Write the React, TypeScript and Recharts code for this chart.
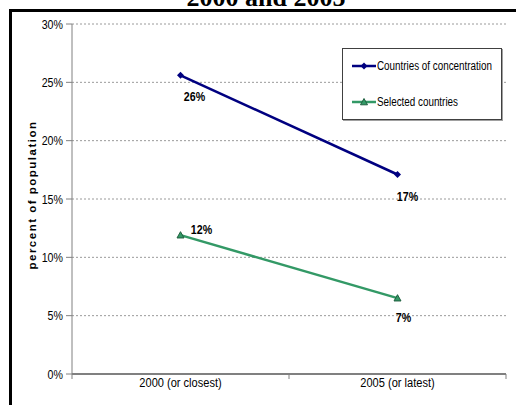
import { LineChart, Line, XAxis, YAxis, CartesianGrid, Legend, LabelList } from "recharts";

const categories = ["2000 (or closest)", "2005 (or latest)"];
const concentration = [25.6, 17.1];
const selected = [11.9, 6.5];
const yTicks = [0, 5, 10, 15, 20, 25, 30];
const seriesNames = ["Countries of concentration", "Selected countries"];

const BLUE = "#000080";
const GREEN = "#339966";
const SANS = "'Liberation Sans', Arial, sans-serif";
const NARROW = 0.82; // no narrow font installed, squeeze Liberation Sans instead

// x is numeric so the tick marks can sit between the categories (Excel style)
const data = categories.map((name, i) => ({
  name,
  x: i + 0.5,
  concentration: concentration[i],
  selected: selected[i],
}));

// label offsets from each point, [dx, dy]
const blueLabelPos = [[14, 21], [10, 22]];
const greenLabelPos = [[21, -6], [6, 19]];

function NarrowText({ x, y, anchor = "middle", size = 13, bold = false, children }: any) {
  return (
    <text
      transform={`translate(${x} ${y}) scale(${NARROW} 1)`}
      textAnchor={anchor}
      fontFamily={SANS}
      fontWeight={bold ? "bold" : "normal"}
      fontSize={size}
      fill="#000"
    >
      {children}
    </text>
  );
}

function Diamond({ cx, cy, fill }: any) {
  if (cx == null || cy == null) return null;
  const s = 3.5;
  return <path d={`M${cx},${cy - s}L${cx + s},${cy}L${cx},${cy + s}L${cx - s},${cy}Z`} fill={fill} />;
}

function Triangle({ cx, cy, fill }: any) {
  if (cx == null || cy == null) return null;
  const s = 3.5;
  return (
    <path
      d={`M${cx},${cy - s}L${cx + s},${cy + s * 0.8}L${cx - s},${cy + s * 0.8}Z`}
      fill={fill}
      stroke="#1f5f3f"
      strokeWidth={1}
    />
  );
}

function XTick({ x, y, payload }: any) {
  const v = payload.value;
  if (Number.isInteger(v)) {
    return <line x1={x} x2={x} y1={y} y2={y + 5} stroke="#808080" strokeWidth={1} />;
  }
  return (
    <NarrowText x={x} y={y + 13} size={13.5}>
      {categories[Math.floor(v)]}
    </NarrowText>
  );
}

function YTick({ x, y, payload }: any) {
  return (
    <NarrowText x={x} y={y + 4.5} anchor="end" size={13}>
      {`${payload.value}%`}
    </NarrowText>
  );
}

const makeLabel = (pos: number[][]) => (props: any) => {
  const { x, y, value, index } = props;
  const [dx, dy] = pos[index] || [0, 0];
  return (
    <NarrowText x={x + dx} y={y + dy + 4.5} size={13} bold>
      {`${Math.round(value)}%`}
    </NarrowText>
  );
};

function LegendBox() {
  const rows = [
    { name: seriesNames[0], color: BLUE, marker: "diamond" },
    { name: seriesNames[1], color: GREEN, marker: "triangle" },
  ];
  return (
    <div
      style={{
        width: 158,
        height: 70,
        border: "1px solid #404040",
        boxShadow: "1px 1px 0 #a0a0a0",
        background: "#fff",
        position: "relative",
        fontFamily: SANS,
        fontSize: 12,
      }}
    >
      {rows.map((r, i) => (
        <div
          key={r.name}
          style={{ position: "absolute", left: 9, top: i === 0 ? 11 : 47, display: "flex", alignItems: "center", height: 12 }}
        >
          <svg width={24} height={12}>
            <line x1={0} x2={24} y1={6} y2={6} stroke={r.color} strokeWidth={2.5} />
            {r.marker === "diamond" ? (
              <Diamond cx={12} cy={6} fill={r.color} />
            ) : (
              <Triangle cx={12} cy={6} fill={r.color} />
            )}
          </svg>
          <span
            style={{
              marginLeft: 1,
              whiteSpace: "nowrap",
              color: "#000",
              display: "inline-block",
              transform: `scaleX(${NARROW})`,
              transformOrigin: "left center",
            }}
          >
            {r.name}
          </span>
        </div>
      ))}
    </div>
  );
}

export default function App() {
  return (
    <div style={{ position: "absolute", left: 0, top: 0, width: 516, height: 405, background: "#fff", overflow: "hidden" }}>
      <LineChart width={516} height={405} data={data} margin={{ top: 24, right: 10, left: 12, bottom: 6 }}>
        <text x={266} y={6} textAnchor="middle" fontFamily="'Liberation Serif', 'Times New Roman', serif" fontWeight="bold" fontSize={26}>
          2000 and 2005
        </text>
        <CartesianGrid vertical={false} stroke="#9a9a9a" strokeDasharray="2 2" />
        <XAxis
          type="number"
          dataKey="x"
          domain={[0, 2]}
          ticks={[0, 0.5, 1, 1.5, 2]}
          interval={0}
          tick={<XTick />}
          tickLine={false}
          tickSize={0}
          tickMargin={0}
          height={25}
          axisLine={{ stroke: "#808080", strokeWidth: 2 }}
        />
        <YAxis
          type="number"
          domain={[0, 30]}
          ticks={yTicks}
          interval={0}
          width={60}
          tickSize={6}
          tickMargin={3}
          tick={<YTick />}
          tickLine={{ stroke: "#808080" }}
          axisLine={{ stroke: "#808080" }}
          label={{
            content: () => (
              <text
                x={32}
                y={195}
                transform="rotate(-90 32 195)"
                textAnchor="middle"
                dominantBaseline="central"
                fontFamily={SANS}
                fontWeight="bold"
                fontSize={11.5}
                letterSpacing={1.5}
                fill="#000"
              >
                percent of population
              </text>
            ),
          }}
        />
        <Legend
          layout="horizontal"
          verticalAlign="middle"
          align="center"
          content={() => <LegendBox />}
          wrapperStyle={{ position: "absolute", left: 342, top: 48, width: 160, height: 72 }}
        />
        <Line
          type="linear"
          dataKey="concentration"
          name={seriesNames[0]}
          stroke={BLUE}
          strokeWidth={2.5}
          dot={<Diamond fill={BLUE} />}
          activeDot={false}
          isAnimationActive={false}
        >
          <LabelList dataKey="concentration" content={makeLabel(blueLabelPos)} />
        </Line>
        <Line
          type="linear"
          dataKey="selected"
          name={seriesNames[1]}
          stroke={GREEN}
          strokeWidth={2.5}
          dot={<Triangle fill={GREEN} />}
          activeDot={false}
          isAnimationActive={false}
        >
          <LabelList dataKey="selected" content={makeLabel(greenLabelPos)} />
        </Line>
      </LineChart>
      <div
        style={{
          position: "absolute",
          left: 9,
          top: 9,
          width: 520,
          height: 420,
          borderLeft: "3px solid #000",
          borderTop: "3px solid #000",
          pointerEvents: "none",
        }}
      />
    </div>
  );
}
